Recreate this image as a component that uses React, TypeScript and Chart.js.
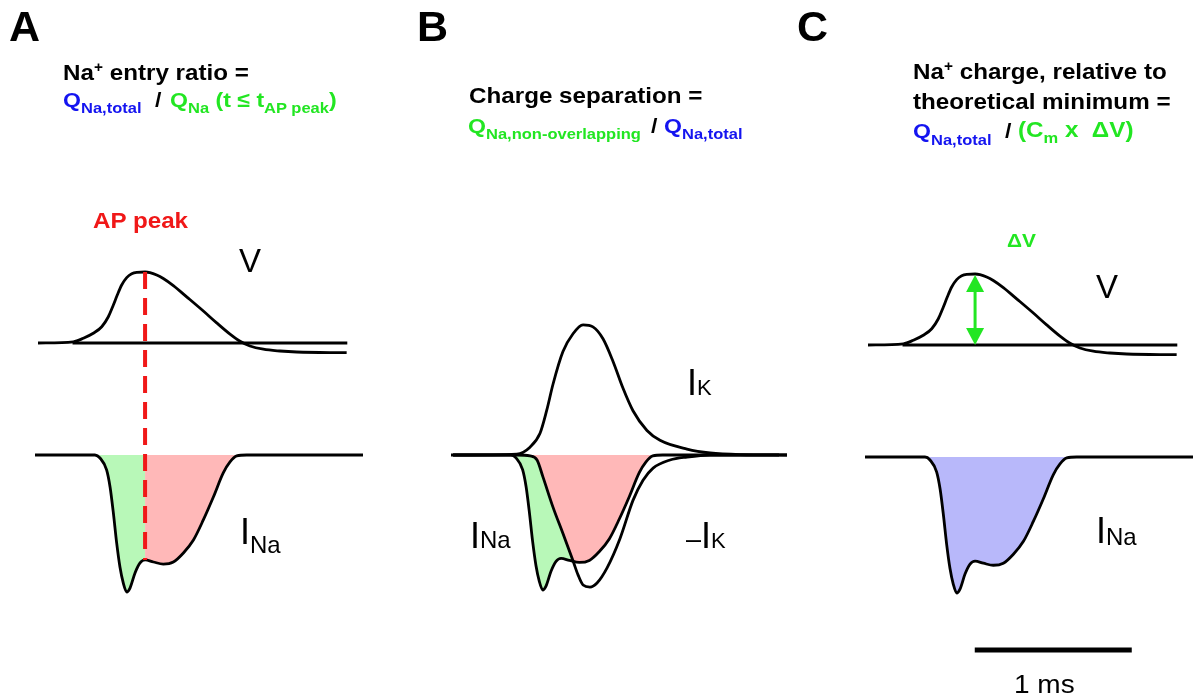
import React, { useEffect, useRef } from "react";
import { Chart, registerables } from "chart.js";

Chart.register(...registerables);

// ---------------- DATA (time in ms, V in mV, currents normalised to peak I_Na) ----------------
const V_TIME = [0, 0.225, 0.289, 0.352, 0.406, 0.448, 0.48, 0.505, 0.533, 0.565, 0.597, 0.629, 0.682, 0.713, 0.756, 0.798, 0.862, 0.947, 1.053, 1.138, 1.223, 1.287, 1.35, 1.435, 1.541, 1.648, 1.966];
const V_MV = [-80, -78, -72, -63.6, -52.5, -35.6, -15.8, 1, 18, 30.5, 37, 39.4, 40, 39, 35, 29, 17, -2, -26, -46, -65, -77, -85, -90.5, -93.5, -95.2, -96.4];

const V_REST_TIME = [0.22, 1.97];
const V_REST_MV = [-80, -80];

const INA_TIME = [-0.019, 0.363, 0.395, 0.437, 0.459, 0.48, 0.501, 0.522, 0.543, 0.565, 0.586, 0.618, 0.65, 0.682, 0.735, 0.798, 0.862, 0.926, 0.99, 1.053, 1.117, 1.18, 1.223, 1.266, 1.329, 2.07];
const INA_NORM = [0, 0, -0.022, -0.109, -0.234, -0.423, -0.642, -0.818, -0.934, -1.0, -0.971, -0.861, -0.788, -0.766, -0.781, -0.796, -0.781, -0.715, -0.62, -0.474, -0.307, -0.131, -0.051, -0.007, 0, 0];

const IK_TIME = [-0.006, 0.4, 0.484, 0.548, 0.59, 0.631, 0.694, 0.758, 0.822, 0.885, 0.949, 1.013, 1.076, 1.14, 1.229, 1.312, 1.484, 1.631, 1.822, 2.121];
const IK_NORM = [0, 0.007, 0.058, 0.161, 0.328, 0.526, 0.766, 0.898, 0.964, 0.949, 0.861, 0.693, 0.496, 0.328, 0.182, 0.109, 0.044, 0.015, 0.003, 0];

const NEG_IK_TIME = [-0.006, 0.401, 0.484, 0.529, 0.567, 0.631, 0.694, 0.758, 0.79, 0.822, 0.866, 0.911, 0.975, 1.057, 1.14, 1.204, 1.268, 1.376, 1.484, 1.631, 2.121];
const NEG_IK_NORM = [0, 0, -0.007, -0.037, -0.164, -0.388, -0.582, -0.784, -0.888, -0.963, -0.978, -0.948, -0.836, -0.62, -0.336, -0.187, -0.097, -0.037, -0.015, 0, 0];

const SCALE_BAR_MS = 1;
const SCALE_BAR_T0 = 0.68;
const SCALE_BAR_LEVEL = -1.42;

// derived
const PEAK_INDEX = V_MV.indexOf(Math.max(...V_MV));
const T_PEAK = V_TIME[PEAK_INDEX];
const V_PEAK = V_MV[PEAK_INDEX];
const V_REST = V_REST_MV[0];
const INA_AT_PEAK = INA_NORM[INA_TIME.indexOf(T_PEAK)];

// ---------------- STYLE / LAYOUT ----------------
const FONT = '"Liberation Sans", Arial, Helvetica, sans-serif';
const GREEN_TXT = "#22e622";
const BLUE_TXT = "#1414f0";
const RED = "#f01818";
const FILL_GREEN = "#b8f8b8";
const FILL_RED = "#ffb8b8";
const FILL_BLUE = "#b8b8fa";
const PX_PER_MS = 157;
const T_ORIGIN_PX = 38;

type Pt = { x: number; y: number };
const pts = (t: number[], y: number[]): Pt[] => t.map((x, i) => ({ x, y: y[i] }));

function rangeFor(v1: number, p1: number, v2: number, p2: number, h: number) {
  const k = (p1 - p2) / (v2 - v1);
  const max = v1 + p1 / k;
  return { min: max - h / k, max };
}

function lineDs(data: Pt[], axis: string, extra: any = {}) {
  return {
    data,
    xAxisID: "x",
    yAxisID: axis,
    showLine: true,
    borderColor: "#000",
    borderWidth: 2.8,
    pointRadius: 0,
    fill: false,
    cubicInterpolationMode: "monotone",
    ...extra,
  };
}

function fillDs(data: Pt[], axis: string, fill: any) {
  return lineDs(data, axis, { borderWidth: 0, borderColor: "rgba(0,0,0,0)", fill });
}

function options(width: number, height: number, iAnchor: number[]) {
  const xMin = -T_ORIGIN_PX / PX_PER_MS;
  const v = rangeFor(V_REST, 343, V_PEAK, 272, height);
  const i = rangeFor(0, iAnchor[0], -1, iAnchor[1], height);
  return {
    responsive: false,
    animation: false,
    events: [],
    layout: { padding: 0 },
    plugins: { legend: { display: false }, tooltip: { enabled: false } },
    scales: {
      x: { type: "linear", display: false, min: xMin, max: xMin + width / PX_PER_MS },
      yV: { type: "linear", display: false, min: v.min, max: v.max },
      yI: { type: "linear", display: false, min: i.min, max: i.max },
    },
  };
}

const apPeakPlugin = {
  id: "apPeakLine",
  afterDatasetsDraw(chart: any) {
    const { ctx, scales } = chart;
    const x = scales.x.getPixelForValue(T_PEAK);
    const y1 = scales.yV.getPixelForValue(V_PEAK);
    const y2 = scales.yI.getPixelForValue(INA_AT_PEAK);
    ctx.save();
    ctx.strokeStyle = RED;
    ctx.lineWidth = 4;
    ctx.setLineDash([17, 9]);
    ctx.beginPath();
    ctx.moveTo(x, y1);
    ctx.lineTo(x, y2);
    ctx.stroke();
    ctx.restore();
  },
};

const deltaVPlugin = {
  id: "deltaVArrow",
  afterDatasetsDraw(chart: any) {
    const { ctx, scales } = chart;
    const x = scales.x.getPixelForValue(T_PEAK);
    const yTop = scales.yV.getPixelForValue(V_PEAK) + 1;
    const yBot = scales.yV.getPixelForValue(V_REST);
    const h = 17;
    const w = 9;
    ctx.save();
    ctx.strokeStyle = GREEN_TXT;
    ctx.fillStyle = GREEN_TXT;
    ctx.lineWidth = 3;
    ctx.beginPath();
    ctx.moveTo(x, yTop + h - 2);
    ctx.lineTo(x, yBot - h + 2);
    ctx.stroke();
    ctx.beginPath();
    ctx.moveTo(x, yTop);
    ctx.lineTo(x - w, yTop + h);
    ctx.lineTo(x + w, yTop + h);
    ctx.closePath();
    ctx.fill();
    ctx.beginPath();
    ctx.moveTo(x, yBot);
    ctx.lineTo(x - w, yBot - h);
    ctx.lineTo(x + w, yBot - h);
    ctx.closePath();
    ctx.fill();
    ctx.restore();
  },
};

function buildA(w: number, h: number) {
  const ina = pts(INA_TIME, INA_NORM);
  return {
    type: "scatter",
    data: {
      datasets: [
        lineDs(pts(V_TIME, V_MV), "yV"),
        lineDs(pts(V_REST_TIME, V_REST_MV), "yV"),
        lineDs(ina, "yI"),
        fillDs(ina.filter((p) => p.x <= T_PEAK), "yI", { target: "origin", above: FILL_GREEN, below: FILL_GREEN }),
        fillDs(ina.filter((p) => p.x >= T_PEAK), "yI", { target: "origin", above: FILL_RED, below: FILL_RED }),
      ],
    },
    options: options(w, h, [455, 592]),
    plugins: [apPeakPlugin],
  };
}

function buildB(w: number, h: number) {
  const ina = pts(INA_TIME, INA_NORM);
  return {
    type: "scatter",
    data: {
      datasets: [
        lineDs(pts(IK_TIME, IK_NORM), "yI"),
        lineDs(pts(NEG_IK_TIME, NEG_IK_NORM), "yI"),
        lineDs(ina, "yI"),
        fillDs(ina, "yI", { target: 1, above: "rgba(0,0,0,0)", below: FILL_GREEN }),
        fillDs(ina, "yI", { target: "origin", above: FILL_RED, below: FILL_RED }),
      ],
    },
    options: options(w, h, [455, 590]),
    plugins: [],
  };
}

function buildC(w: number, h: number) {
  const ina = pts(INA_TIME, INA_NORM);
  return {
    type: "scatter",
    data: {
      datasets: [
        lineDs(pts(V_TIME, V_MV), "yV"),
        lineDs(pts(V_REST_TIME, V_REST_MV), "yV"),
        lineDs(ina, "yI"),
        fillDs(ina, "yI", { target: "origin", above: FILL_BLUE, below: FILL_BLUE }),
        lineDs(pts([SCALE_BAR_T0, SCALE_BAR_T0 + SCALE_BAR_MS], [SCALE_BAR_LEVEL, SCALE_BAR_LEVEL]), "yI", {
          borderWidth: 5,
          borderCapStyle: "butt",
          cubicInterpolationMode: "default",
        }),
      ],
    },
    options: options(w, h, [455, 591]),
    plugins: [deltaVPlugin],
  };
}

function Panel({ left, top, width, height, build }: any) {
  const ref = useRef<HTMLCanvasElement>(null);
  useEffect(() => {
    const chart = new Chart(ref.current as HTMLCanvasElement, build(width, height) as any);
    return () => chart.destroy();
  }, []);
  return (
    <canvas
      ref={ref}
      width={width}
      height={height}
      style={{ position: "absolute", left, top, width, height }}
    />
  );
}

type Run = { t: string; s?: number; c?: string; dy?: number };
function Txt({ x, b, size, runs, bold = false, sx = 1, color = "#000" }: { x: number; b: number; size: number; runs: Run[]; bold?: boolean; sx?: number; color?: string }) {
  return (
    <div
      style={{
        position: "absolute",
        left: x,
        top: b - 0.8465 * size,
        fontFamily: FONT,
        fontSize: size,
        lineHeight: 1,
        fontWeight: bold ? 700 : 400,
        whiteSpace: "pre",
        color,
        transform: sx !== 1 ? `scaleX(${sx})` : undefined,
        transformOrigin: "0 0",
      }}
    >
      {runs.map((r, i) => (
        <span key={i} style={{ fontSize: r.s ?? size, color: r.c ?? color, position: "relative", top: r.dy ?? 0 }}>
          {r.t}
        </span>
      ))}
    </div>
  );
}

export default function App() {
  useEffect(() => {
    document.body.style.margin = "0";
  }, []);
  const H = 22; // heading size
  const S = 15; // heading subscript size
  const Q = 21;
  const SX = 1.1;
  return (
    <div style={{ position: "absolute", left: 0, top: 0, width: 1196, height: 699, overflow: "hidden", background: "#fff" }}>
      <Panel left={0} top={0} width={400} height={699} build={buildA} />
      <Panel left={416} top={0} width={400} height={699} build={buildB} />
      <Panel left={830} top={2} width={366} height={697} build={buildC} />

      {/* panel letters */}
      <Txt x={9} b={41.5} size={43} bold runs={[{ t: "A" }]} />
      <Txt x={417} b={41.5} size={43} bold runs={[{ t: "B" }]} />
      <Txt x={797} b={41.5} size={43} bold runs={[{ t: "C" }]} />

      {/* Panel A heading */}
      <Txt x={63} b={81} size={H} bold sx={SX} runs={[{ t: "Na" }, { t: "+", s: 14, dy: -8 }, { t: " entry ratio =" }]} />
      <Txt x={63} b={107} size={Q} bold sx={SX} color={BLUE_TXT} runs={[{ t: "Q" }, { t: "Na,total", s: S, dy: 6 }]} />
      <Txt x={155} b={107} size={Q} bold sx={SX} runs={[{ t: "/" }]} />
      <Txt
        x={170}
        b={107}
        size={Q}
        bold
        sx={SX}
        color={GREEN_TXT}
        runs={[{ t: "Q" }, { t: "Na", s: S, dy: 6 }, { t: " (t ≤ t" }, { t: "AP peak", s: S, dy: 6 }, { t: ")" }]}
      />

      {/* Panel B heading */}
      <Txt x={469} b={104} size={H} bold sx={SX} runs={[{ t: "Charge separation =" }]} />
      <Txt x={468} b={133} size={Q} bold sx={SX} color={GREEN_TXT} runs={[{ t: "Q" }, { t: "Na,non-overlapping", s: S, dy: 6 }]} />
      <Txt x={651} b={133} size={Q} bold sx={SX} runs={[{ t: "/" }]} />
      <Txt x={664} b={133} size={Q} bold sx={SX} color={BLUE_TXT} runs={[{ t: "Q" }, { t: "Na,total", s: S, dy: 6 }]} />

      {/* Panel C heading */}
      <Txt x={913} b={80} size={H} bold sx={SX} runs={[{ t: "Na" }, { t: "+", s: 14, dy: -8 }, { t: " charge, relative to" }]} />
      <Txt x={913} b={110} size={H} bold sx={SX} runs={[{ t: "theoretical minimum =" }]} />
      <Txt x={913} b={138} size={Q} bold sx={SX} color={BLUE_TXT} runs={[{ t: "Q" }, { t: "Na,total", s: S, dy: 7 }]} />
      <Txt x={1005} b={138} size={Q} bold sx={SX} runs={[{ t: "/" }]} />
      <Txt x={1018} b={138} size={H} bold sx={SX} color={GREEN_TXT} runs={[{ t: "(C" }, { t: "m", s: S, dy: 6 }, { t: " x  ΔV)" }]} />

      {/* annotations */}
      <Txt x={93} b={229} size={22} bold sx={SX} color={RED} runs={[{ t: "AP peak" }]} />
      <Txt x={1007} b={247} size={19} bold sx={SX} color={GREEN_TXT} runs={[{ t: "ΔV" }]} />

      {/* trace labels */}
      <Txt x={239} b={272} size={33} runs={[{ t: "V" }]} />
      <Txt x={240} b={544} size={36} runs={[{ t: "I" }, { t: "Na", s: 24, dy: 9 }]} />
      <Txt x={687} b={395} size={36} runs={[{ t: "I" }, { t: "K", s: 22 }]} />
      <Txt x={470} b={548} size={36} runs={[{ t: "I" }, { t: "Na", s: 24 }]} />
      <Txt x={686} b={548} size={36} runs={[{ t: "–", s: 27 }, { t: "I" }, { t: "K", s: 22 }]} />
      <Txt x={1096} b={298} size={33} runs={[{ t: "V" }]} />
      <Txt x={1096} b={543} size={36} runs={[{ t: "I" }, { t: "Na", s: 24, dy: 2 }]} />

      {/* scale bar label */}
      <Txt x={1014} b={693} size={25} sx={1.12} runs={[{ t: "1 ms" }]} />
    </div>
  );
}
